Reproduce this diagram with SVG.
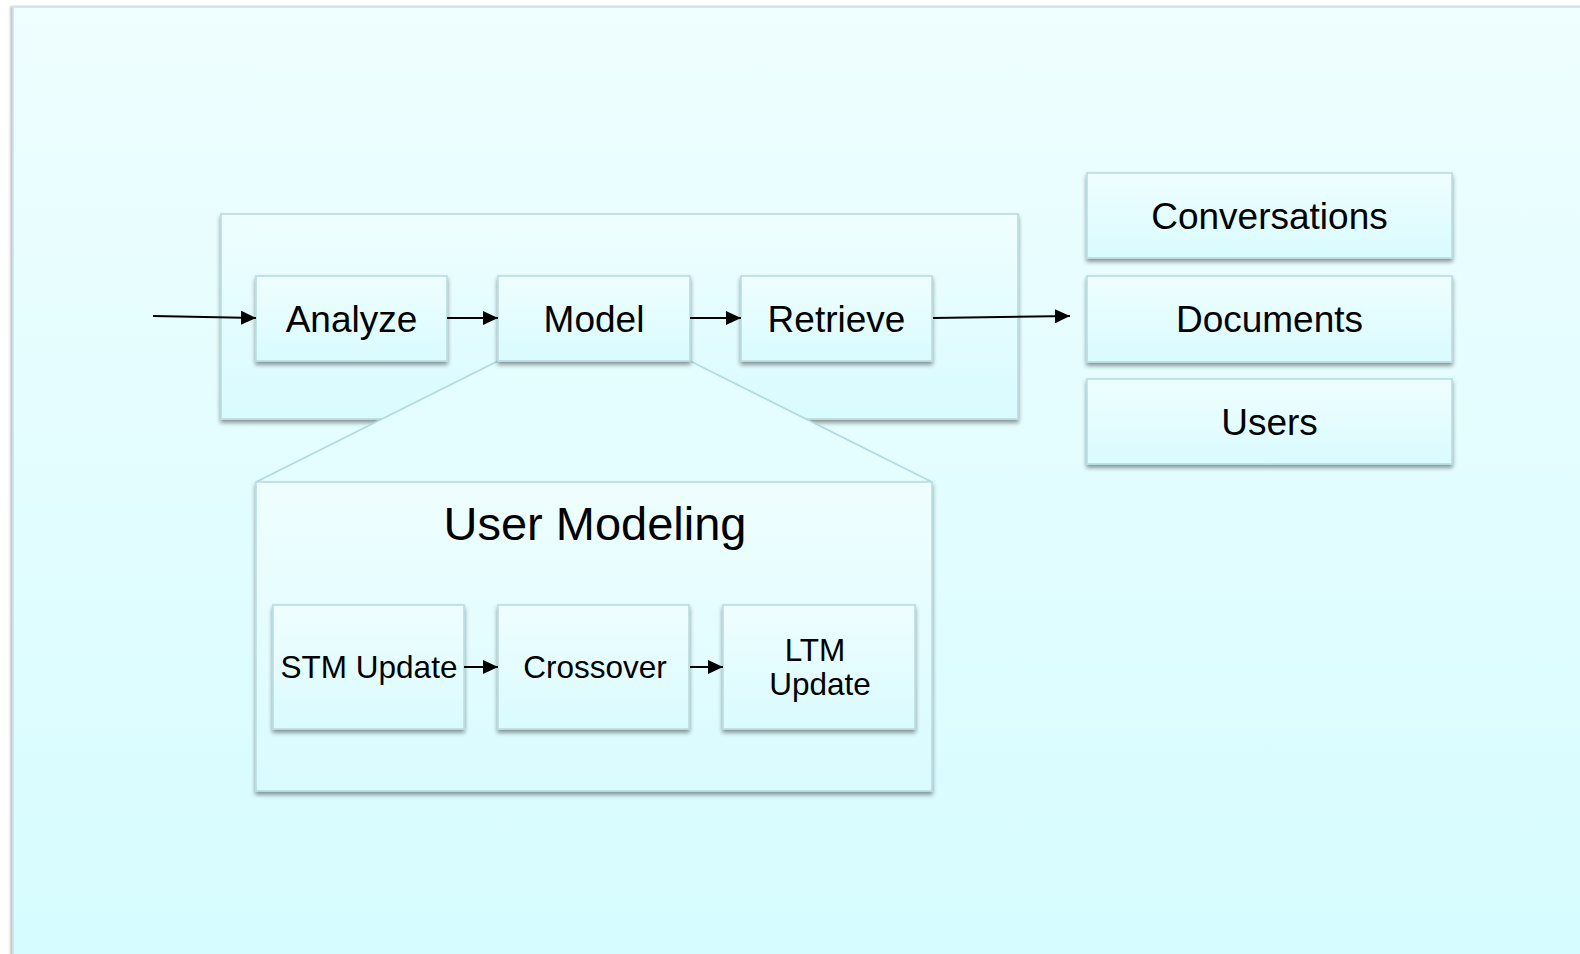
<svg xmlns="http://www.w3.org/2000/svg" width="1580" height="954" viewBox="0 0 1580 954">
  <defs>
    <linearGradient id="panelGrad" x1="0" y1="0" x2="0" y2="1">
      <stop offset="0" stop-color="#effeff"/>
      <stop offset="1" stop-color="#d6fcff"/>
    </linearGradient>
    <linearGradient id="boxGrad" x1="0" y1="0" x2="0" y2="1">
      <stop offset="0" stop-color="#effeff"/>
      <stop offset="1" stop-color="#d9fbff"/>
    </linearGradient>
    <filter id="shadow" x="-10%" y="-10%" width="120%" height="130%">
      <feDropShadow dx="0" dy="3" stdDeviation="2" flood-color="#000" flood-opacity="0.42"/>
    </filter>
    <filter id="leftShadow" x="-5%" y="-5%" width="110%" height="110%">
      <feDropShadow dx="-2" dy="0" stdDeviation="1.2" flood-color="#000" flood-opacity="0.25"/>
    </filter>
    <marker id="arrow" markerUnits="userSpaceOnUse" markerWidth="17" markerHeight="15" refX="15" refY="7" orient="auto">
      <path d="M0,0 L15,7 L0,14 Z" fill="#000"/>
    </marker>
  </defs>
  <style>
    .box { fill: url(#boxGrad); stroke: #b9dce2; stroke-width: 1.6; filter: url(#shadow); }
    .lbl { font-family: "Liberation Sans", Arial, sans-serif; fill: #000; text-anchor: middle; }
    .big { font-size: 37px; }
    .small { font-size: 31.5px; }
    .conn { stroke: #000; stroke-width: 1.9; fill: none; marker-end: url(#arrow); }
    .zoomline { stroke: #b3d9df; stroke-width: 1.6; fill: none; }
  </style>

  <rect x="0" y="0" width="1580" height="954" fill="#ffffff"/>
  <rect id="panel" x="13" y="7" width="1580" height="960" fill="url(#panelGrad)" stroke="#c4e2e7" stroke-width="1.5" filter="url(#leftShadow)"/>

  <g id="pipeline">
    <rect class="box" x="221" y="214" width="797" height="205"/>
  </g>

  <g id="zoom-callout">
    <polygon points="498,361 690,361 932,482 256,482" fill="#e4fdff" stroke="none"/>
    <line class="zoomline" x1="498" y1="361" x2="256" y2="482"/>
    <line class="zoomline" x1="690" y1="361" x2="932" y2="482"/>
  </g>

  <g id="analyze">
    <rect class="box" x="256" y="276" width="191" height="85"/>
    <text class="lbl big" x="351.5" y="332">Analyze</text>
  </g>
  <g id="model">
    <rect class="box" x="498" y="276" width="192" height="85"/>
    <text class="lbl big" x="594" y="332">Model</text>
  </g>
  <g id="retrieve">
    <rect class="box" x="741" y="276" width="191" height="85"/>
    <text class="lbl big" x="836.5" y="332">Retrieve</text>
  </g>

  <g id="conversations">
    <rect class="box" x="1087" y="173" width="365" height="85"/>
    <text class="lbl big" x="1269.5" y="229">Conversations</text>
  </g>
  <g id="documents">
    <rect class="box" x="1087" y="276" width="365" height="86"/>
    <text class="lbl big" x="1269.5" y="332">Documents</text>
  </g>
  <g id="users">
    <rect class="box" x="1087" y="379" width="365" height="85"/>
    <text class="lbl big" x="1269.5" y="435">Users</text>
  </g>

  <g id="user-modeling">
    <rect class="box" x="256" y="482" width="676" height="309"/>
    <text class="lbl" style="font-size:47px" x="595" y="540">User Modeling</text>
  </g>
  <g id="stm-update">
    <rect class="box" x="273" y="605" width="191" height="124"/>
    <text class="lbl small" x="369" y="678">STM Update</text>
  </g>
  <g id="crossover">
    <rect class="box" x="498" y="605" width="191" height="124"/>
    <text class="lbl small" x="595" y="678">Crossover</text>
  </g>
  <g id="ltm-update">
    <rect class="box" x="723" y="605" width="192" height="124"/>
    <text class="lbl small" x="815" y="661">LTM</text>
    <text class="lbl small" x="820" y="695">Update</text>
  </g>

  <g id="connectors">
    <line class="conn" x1="153" y1="316" x2="256" y2="318"/>
    <line class="conn" x1="447" y1="318" x2="498" y2="318"/>
    <line class="conn" x1="690" y1="318" x2="741" y2="318"/>
    <line class="conn" x1="933" y1="318" x2="1070" y2="316"/>
    <line class="conn" x1="464" y1="667" x2="498" y2="667"/>
    <line class="conn" x1="690" y1="667" x2="723" y2="667"/>
  </g>
</svg>
